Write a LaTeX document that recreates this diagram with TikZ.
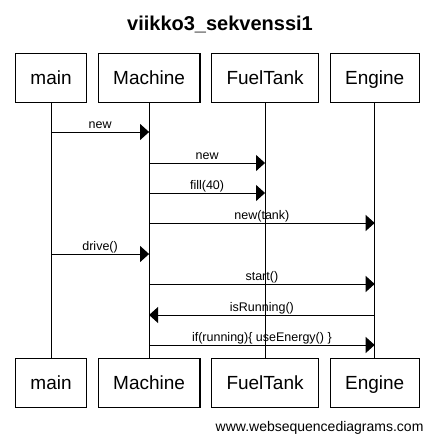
\documentclass[tikz,border=0pt]{standalone}
\usepackage{fontspec}
\setmainfont{Liberation Sans}
\usetikzlibrary{arrows.meta,positioning}
\tikzset{
>={Triangle[length=9pt,width=16pt]},
node distance=10.5pt,
osallinen/.style={draw,line width=1pt,inner xsep=15pt,minimum height=49pt,text height=13.6pt,text depth=0pt,font=\fontsize{19}{19}\selectfont},
elama/.style={line width=1pt},
viesti/.style={->,line width=1pt},
teksti/.style={anchor=base,yshift=3.5pt,inner sep=0pt,font=\fontsize{12.5}{12.5}\selectfont}}

\begin{document}
\begin{tikzpicture}[x=1pt,y=-1pt]

\useasboundingbox (0,0) rectangle (436,442);
\node[anchor=base,font=\fontsize{20}{20}\selectfont\bfseries] (otsikko) at (220,30) {viikko3\_sekvenssi1};

% ylarivi
\node[osallinen,anchor=north west] (main) at (15,53) {main};
\node[osallinen,right=of main] (machine) {Machine};
\node[osallinen,right=of machine] (fueltank) {FuelTank};
\node[osallinen,right=of fueltank] (engine) {Engine};

% alarivi
\node[osallinen,anchor=north west] (main2) at (15,358) {main};
\node[osallinen,right=of main2] (machine2) {Machine};
\node[osallinen,right=of machine2] (fueltank2) {FuelTank};
\node[osallinen,right=of fueltank2] (engine2) {Engine};

\path[elama] (main) edge (main2);
\path[elama] (machine) edge (machine2);
\path[elama] (fueltank) edge (fueltank2);
\path[elama] (engine) edge (engine2);

% viestirivit
\coordinate (r1) at (0,132);
\coordinate (r2) at (0,163);
\coordinate (r3) at (0,193);
\coordinate (r4) at (0,223);
\coordinate (r5) at (0,254);
\coordinate (r6) at (0,284);
\coordinate (r7) at (0,315);
\coordinate (r8) at (0,345);

\coordinate (v1a) at (main |- r1);
\coordinate (v1b) at (machine |- r1);
\path[viesti] (v1a) edge node[teksti]{new} (v1b);

\coordinate (v2a) at (machine |- r2);
\coordinate (v2b) at (fueltank |- r2);
\path[viesti] (v2a) edge node[teksti]{new} (v2b);

\coordinate (v3a) at (machine |- r3);
\coordinate (v3b) at (fueltank |- r3);
\path[viesti] (v3a) edge node[teksti]{fill(40)} (v3b);

\coordinate (v4a) at (machine |- r4);
\coordinate (v4b) at (engine |- r4);
\path[viesti] (v4a) edge node[teksti]{new(tank)} (v4b);

\coordinate (v5a) at (main |- r5);
\coordinate (v5b) at (machine |- r5);
\path[viesti] (v5a) edge node[teksti]{drive()} (v5b);

\coordinate (v6a) at (machine |- r6);
\coordinate (v6b) at (engine |- r6);
\path[viesti] (v6a) edge node[teksti]{start()} (v6b);

\coordinate (v7a) at (engine |- r7);
\coordinate (v7b) at (machine |- r7);
\path[viesti] (v7a) edge node[teksti]{isRunning()} (v7b);

\coordinate (v8a) at (machine |- r8);
\coordinate (v8b) at (engine |- r8);
\path[viesti] (v8a) edge node[teksti]{if(running)\{ useEnergy() \}} (v8b);

\node[anchor=base east,font=\fontsize{14}{14}\selectfont] (wsd) at (427,431) {www.websequencediagrams.com};

\end{tikzpicture}
\end{document}
